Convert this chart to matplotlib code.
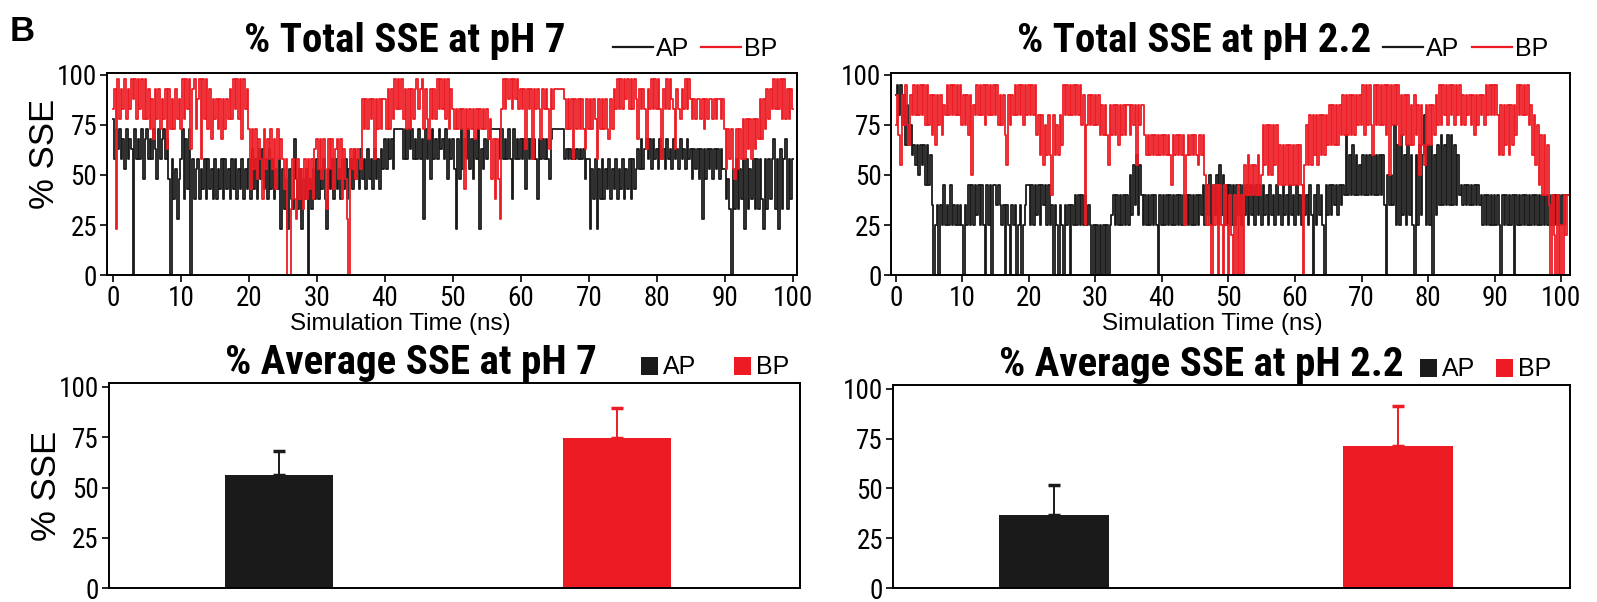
import matplotlib
matplotlib.use('Agg')
import matplotlib.pyplot as plt
from matplotlib import font_manager
from matplotlib.lines import Line2D
from matplotlib.patches import Patch
import numpy as np

COLOR_AP = '#1a1a1a'
COLOR_BP = '#ED1C24'

# condensed sans for titles and ticks, Arial-like sans for labels/legends
_installed = {f.name for f in font_manager.fontManager.ttflist}
NARROW = [n for n in ('Roboto Condensed', 'Archivo Narrow', 'Asap Condensed')
          if n in _installed][:1] + ['DejaVu Sans']
PLAIN = ['Liberation Sans', 'DejaVu Sans']

plt.rcParams.update({
    'font.family': NARROW,
    'font.size': 16,
    'axes.linewidth': 1.4,
    'xtick.major.width': 1.2,
    'ytick.major.width': 1.2,
    'xtick.major.size': 5,
    'ytick.major.size': 5,
})

# % SSE per frame (0.25 ns per frame), pH 7
AP_PH7 = [
    78, 58, 73, 63, 73, 58, 68, 53, 73, 58, 68, 63, 0, 73, 58, 68, 58, 73, 48, 68,
    73, 58, 68, 58, 73, 63, 48, 73, 58, 68, 73, 58, 68, 48, 0, 58, 38, 53, 28, 48,
    58, 73, 38, 68, 43, 73, 0, 58, 38, 53, 58, 38, 53, 43, 58, 38, 58, 43, 53, 38,
    58, 38, 53, 43, 58, 38, 58, 43, 53, 38, 58, 43, 58, 38, 53, 43, 58, 38, 53, 43,
    58, 38, 63, 43, 58, 38, 63, 48, 63, 43, 58, 38, 63, 43, 58, 38, 53, 43, 58, 23,
    53, 33, 48, 23, 53, 38, 33, 68, 48, 33, 53, 23, 48, 38, 53, 0, 48, 33, 53, 38,
    58, 38, 53, 43, 58, 38, 23, 53, 43, 58, 38, 58, 43, 53, 38, 58, 43, 58, 38, 53,
    58, 43, 63, 48, 58, 43, 63, 48, 58, 43, 63, 48, 58, 43, 63, 48, 58, 43, 63, 53,
    68, 53, 68, 58, 68, 53, 73, 73, 73, 73, 73, 58, 73, 58, 73, 63, 73, 58, 68, 58,
    73, 58, 68, 28, 73, 58, 68, 48, 73, 58, 68, 58, 73, 63, 68, 58, 73, 48, 68, 58,
    68, 53, 23, 68, 48, 73, 53, 68, 58, 73, 53, 68, 48, 68, 58, 73, 23, 63, 53, 68,
    58, 68, 73, 73, 73, 73, 73, 73, 58, 73, 58, 68, 58, 73, 58, 38, 73, 58, 68, 58,
    68, 58, 68, 43, 68, 58, 68, 58, 68, 58, 38, 68, 58, 68, 58, 68, 58, 48, 68, 73,
    73, 73, 73, 73, 73, 73, 58, 63, 58, 63, 58, 63, 58, 63, 58, 63, 58, 63, 48, 58,
    58, 23, 53, 38, 58, 23, 53, 38, 58, 38, 53, 43, 58, 38, 53, 43, 58, 38, 53, 43,
    58, 38, 53, 43, 58, 38, 58, 43, 53, 63, 53, 68, 53, 63, 68, 58, 68, 53, 68, 58,
    63, 53, 68, 58, 63, 53, 68, 58, 63, 53, 68, 58, 63, 53, 68, 58, 63, 53, 68, 58,
    63, 48, 63, 53, 63, 48, 63, 28, 63, 48, 63, 53, 63, 48, 63, 53, 63, 48, 63, 53,
    53, 38, 48, 33, 0, 53, 33, 58, 33, 53, 38, 58, 23, 58, 33, 53, 38, 58, 33, 58,
    33, 58, 38, 23, 58, 33, 58, 38, 58, 68, 33, 58, 23, 63, 33, 58, 68, 33, 58, 38,
    58,
]
BP_PH7 = [
    83, 93, 23, 98, 78, 93, 83, 98, 78, 93, 83, 98, 88, 98, 78, 98, 83, 98, 78, 98,
    78, 93, 73, 88, 68, 93, 78, 93, 73, 88, 78, 93, 63, 93, 73, 88, 73, 93, 78, 88,
    73, 98, 78, 98, 83, 98, 63, 93, 98, 73, 88, 98, 58, 98, 78, 98, 73, 93, 68, 88,
    78, 88, 73, 88, 68, 88, 73, 88, 78, 93, 78, 98, 83, 98, 78, 98, 68, 98, 83, 93,
    73, 43, 73, 53, 73, 48, 68, 58, 38, 73, 53, 68, 58, 73, 53, 68, 43, 73, 58, 68,
    58, 43, 58, 0, 0, 33, 58, 38, 28, 58, 38, 53, 33, 58, 38, 58, 43, 58, 38, 63,
    68, 53, 68, 48, 68, 53, 33, 68, 53, 68, 43, 63, 68, 48, 68, 38, 63, 48, 28, 0,
    63, 53, 63, 48, 63, 58, 53, 88, 73, 88, 73, 88, 78, 88, 58, 88, 73, 88, 73, 88,
    88, 73, 93, 73, 93, 78, 98, 83, 98, 83, 98, 78, 93, 73, 93, 73, 93, 78, 93, 98,
    83, 93, 98, 73, 93, 78, 68, 93, 78, 93, 78, 98, 83, 98, 83, 98, 78, 98, 73, 93,
    83, 73, 83, 73, 83, 73, 83, 43, 83, 73, 83, 73, 83, 68, 83, 73, 83, 73, 83, 73,
    83, 68, 78, 48, 68, 38, 68, 48, 28, 83, 98, 83, 98, 88, 98, 83, 98, 88, 98, 83,
    93, 83, 93, 63, 93, 83, 93, 58, 93, 83, 93, 83, 68, 93, 83, 93, 83, 63, 93, 83,
    93, 93, 93, 93, 93, 93, 88, 73, 88, 73, 88, 58, 88, 73, 88, 73, 88, 73, 63, 88,
    73, 88, 73, 88, 78, 58, 88, 73, 88, 73, 88, 73, 68, 88, 73, 93, 83, 98, 83, 98,
    83, 98, 88, 98, 83, 98, 83, 98, 88, 68, 93, 83, 93, 83, 63, 93, 83, 98, 83, 98,
    83, 98, 83, 58, 93, 83, 98, 83, 98, 88, 83, 63, 93, 83, 78, 93, 83, 98, 83, 98,
    88, 78, 88, 78, 88, 88, 78, 88, 73, 88, 78, 88, 88, 78, 88, 78, 88, 88, 78, 88,
    73, 53, 73, 58, 73, 53, 48, 73, 53, 73, 58, 78, 58, 78, 63, 78, 58, 78, 63, 78,
    68, 88, 68, 88, 73, 93, 78, 93, 83, 98, 83, 98, 83, 98, 78, 98, 78, 93, 78, 93,
    83,
]

# % SSE per frame (0.25 ns per frame), pH 2.2
AP_PH22 = [
    90, 95, 80, 95, 75, 90, 65, 85, 65, 75, 60, 65, 55, 65, 50, 65, 55, 65, 45, 65,
    45, 60, 35, 0, 25, 35, 0, 35, 25, 45, 25, 35, 25, 45, 25, 35, 25, 35, 25, 35,
    25, 0, 35, 25, 45, 25, 45, 25, 45, 30, 45, 25, 45, 25, 0, 45, 25, 45, 0, 45,
    45, 35, 45, 35, 25, 35, 0, 35, 25, 0, 35, 25, 35, 0, 25, 35, 0, 25, 35, 45,
    45, 25, 45, 25, 45, 30, 45, 25, 45, 35, 45, 25, 45, 25, 35, 0, 35, 25, 0, 35,
    25, 0, 35, 25, 35, 0, 35, 25, 40, 25, 40, 25, 40, 25, 40, 25, 35, 25, 0, 25,
    0, 25, 0, 25, 0, 25, 0, 25, 0, 25, 30, 40, 25, 40, 25, 40, 25, 40, 25, 40,
    25, 50, 30, 55, 35, 60, 30, 55, 40, 25, 40, 25, 40, 25, 40, 25, 40, 25, 0, 40,
    25, 40, 25, 40, 25, 40, 25, 40, 25, 40, 25, 40, 25, 40, 25, 40, 25, 40, 25, 40,
    25, 40, 25, 40, 30, 45, 25, 45, 30, 50, 25, 45, 30, 50, 25, 55, 30, 50, 25, 45,
    25, 45, 25, 45, 25, 45, 30, 45, 25, 45, 30, 45, 25, 45, 30, 45, 25, 45, 30, 45,
    25, 45, 30, 40, 25, 45, 30, 40, 25, 45, 30, 40, 25, 45, 30, 40, 25, 45, 30, 40,
    25, 45, 30, 40, 25, 45, 30, 40, 25, 45, 30, 0, 40, 25, 45, 30, 40, 25, 0, 45,
    30, 45, 30, 45, 35, 45, 30, 45, 35, 45, 40, 70, 40, 60, 40, 65, 40, 60, 40, 55,
    40, 60, 40, 60, 40, 60, 40, 60, 40, 60, 40, 60, 40, 60, 35, 0, 50, 35, 50, 35,
    75, 25, 65, 25, 70, 30, 60, 25, 65, 30, 60, 25, 0, 60, 25, 65, 30, 60, 80, 25,
    65, 25, 65, 0, 60, 30, 65, 35, 70, 35, 65, 35, 70, 35, 70, 35, 65, 35, 60, 40,
    45, 35, 45, 35, 45, 35, 45, 35, 45, 35, 45, 35, 40, 25, 40, 25, 40, 25, 40, 25,
    40, 25, 40, 25, 0, 40, 25, 40, 25, 40, 25, 40, 0, 40, 25, 40, 25, 40, 25, 40,
    25, 40, 25, 40, 25, 40, 25, 40, 25, 40, 25, 40, 25, 40, 25, 40, 25, 40, 25, 40,
    25, 40, 25, 40, 40,
]
BP_PH22 = [
    75, 90, 70, 55, 90, 75, 95, 75, 65, 90, 80, 95, 80, 95, 80, 95, 80, 95, 75, 95,
    75, 90, 70, 90, 65, 90, 75, 90, 70, 85, 80, 95, 80, 95, 80, 95, 80, 95, 80, 95,
    75, 90, 75, 90, 70, 90, 50, 85, 80, 95, 80, 95, 80, 95, 75, 95, 80, 95, 80, 95,
    80, 95, 75, 90, 75, 90, 70, 55, 90, 75, 90, 80, 95, 80, 95, 80, 95, 75, 95, 80,
    95, 80, 95, 80, 95, 70, 80, 60, 80, 55, 75, 60, 80, 60, 40, 80, 60, 75, 60, 80,
    65, 95, 80, 95, 80, 95, 80, 95, 80, 95, 80, 95, 75, 90, 25, 75, 90, 75, 90, 75,
    90, 75, 90, 70, 85, 70, 85, 70, 55, 85, 70, 85, 70, 85, 65, 85, 70, 85, 70, 85,
    85, 70, 85, 75, 85, 55, 85, 75, 85, 85, 70, 60, 70, 60, 70, 60, 70, 60, 70, 60,
    70, 60, 70, 60, 70, 60, 45, 70, 60, 70, 60, 70, 60, 70, 25, 60, 70, 60, 70, 60,
    70, 60, 55, 70, 60, 70, 50, 25, 45, 25, 0, 45, 25, 45, 0, 45, 25, 0, 45, 25,
    0, 40, 20, 0, 40, 0, 45, 0, 40, 0, 55, 40, 60, 40, 55, 40, 55, 40, 60, 40,
    50, 75, 55, 75, 50, 75, 50, 75, 55, 75, 45, 65, 45, 65, 45, 65, 45, 65, 45, 65,
    45, 65, 45, 65, 45, 0, 55, 75, 55, 80, 55, 80, 60, 80, 55, 80, 60, 80, 60, 80,
    65, 85, 65, 85, 65, 85, 65, 85, 70, 90, 70, 90, 70, 90, 70, 90, 70, 90, 75, 90,
    75, 95, 70, 95, 75, 95, 75, 60, 95, 75, 95, 75, 95, 75, 95, 70, 95, 50, 95, 75,
    95, 75, 95, 65, 90, 70, 90, 65, 90, 65, 85, 65, 90, 70, 85, 50, 85, 65, 55, 85,
    65, 85, 65, 85, 70, 90, 75, 95, 75, 95, 80, 95, 75, 95, 80, 95, 75, 95, 80, 95,
    75, 90, 75, 90, 80, 90, 75, 90, 70, 90, 75, 90, 80, 90, 75, 95, 80, 95, 80, 95,
    80, 95, 80, 60, 85, 60, 85, 65, 85, 60, 85, 65, 85, 70, 95, 80, 95, 80, 95, 80,
    95, 75, 85, 60, 80, 55, 75, 45, 70, 40, 70, 40, 65, 35, 0, 40, 20, 0, 40, 0,
    25, 0, 40, 20, 40,
]

T_END_PH7 = 100.0
T_END_PH22 = 101.0

# average % SSE over the trajectory (mean, +SD)
CONDITIONS = ['pH 7', 'pH 2.2']
AP_MEAN = [56.0, 36.5]
AP_SD = [12.0, 15.0]
BP_MEAN = [74.5, 71.5]
BP_SD = [15.0, 20.0]

TITLE_FONT = dict(fontsize=29.5, fontweight='bold')


def line_legend(ax, x, y):
    handles = [Line2D([], [], color=COLOR_AP, lw=1.6),
               Line2D([], [], color=COLOR_BP, lw=1.6)]
    ax.legend(handles, ['AP', 'BP'], loc='center right', bbox_to_anchor=(x, y),
              ncol=2, frameon=False, prop={'family': PLAIN, 'size': 18},
              handlelength=1.6, handletextpad=0.12, columnspacing=0.5,
              borderpad=0, borderaxespad=0)


def box_legend(ax, x, y, spacing):
    handles = [Patch(facecolor=COLOR_AP), Patch(facecolor=COLOR_BP)]
    ax.legend(handles, ['AP', 'BP'], loc='center right', bbox_to_anchor=(x, y),
              ncol=2, frameon=False, prop={'family': PLAIN, 'size': 18},
              handlelength=0.68, handleheight=0.75, handletextpad=0.2,
              columnspacing=spacing, borderpad=0, borderaxespad=0)


def trace_panel(ax, ap, bp, t_end, title, title_x, legend_x, xlabel_x, xlim,
                ylabel):
    t = np.linspace(0, t_end, len(ap))
    ax.plot(t, ap, color=COLOR_AP, lw=1.3, drawstyle='steps-mid')
    ax.plot(t, bp, color=COLOR_BP, lw=1.3, drawstyle='steps-mid')
    ax.set_xlim(*xlim)
    ax.set_ylim(0, 101)
    ax.set_xticks(np.arange(0, 101, 10))
    ax.set_yticks([0, 25, 50, 75, 100])
    ax.tick_params(axis='both', labelsize=19.5, pad=2)
    ax.set_xlabel('Simulation Time (ns)', fontsize=17.5, family=PLAIN)
    ax.xaxis.set_label_coords(xlabel_x, -0.185)
    if ylabel:
        ax.set_ylabel('% SSE', fontsize=25, family=PLAIN)
        ax.yaxis.set_label_coords(-0.066, 0.6)
    ax.text(title_x, 1.105, title, transform=ax.transAxes, ha='center',
            va='baseline', **TITLE_FONT)
    line_legend(ax, legend_x, 1.12)


def bar_panel(ax, i, title, title_x, legend_x, spacing, xlim, ylabel):
    ax.bar([0], [AP_MEAN[i]], width=0.32, color=COLOR_AP)
    ax.bar([1], [BP_MEAN[i]], width=0.32, color=COLOR_BP)
    ax.errorbar([0], [AP_MEAN[i]], yerr=[[0], [AP_SD[i]]], color=COLOR_AP,
                elinewidth=1.4, capsize=4, capthick=2.5, fmt='none')
    ax.errorbar([1], [BP_MEAN[i]], yerr=[[0], [BP_SD[i]]], color=COLOR_BP,
                elinewidth=1.4, capsize=4, capthick=2.5, fmt='none')
    ax.set_xlim(*xlim)
    ax.set_ylim(0, 102)
    ax.set_xticks([])
    ax.set_yticks([0, 25, 50, 75, 100])
    ax.tick_params(axis='y', labelsize=19.5, pad=2)
    if ylabel:
        ax.set_ylabel('% SSE', fontsize=25, family=PLAIN)
        ax.yaxis.set_label_coords(-0.066, 0.5)
    ax.text(title_x, 1.045, title, transform=ax.transAxes, ha='center',
            va='baseline', **TITLE_FONT)
    box_legend(ax, legend_x, 1.075, spacing)


fig = plt.figure(figsize=(15.97, 6.02), dpi=100)

ax_tl = fig.add_axes([0.067, 0.543, 0.432, 0.336])
ax_tr = fig.add_axes([0.558, 0.543, 0.425, 0.336])
ax_bl = fig.add_axes([0.068, 0.023, 0.433, 0.341])
ax_br = fig.add_axes([0.559, 0.023, 0.424, 0.338])

trace_panel(ax_tl, AP_PH7, BP_PH7, T_END_PH7, '% Total SSE at pH 7',
            0.432, 0.972, 0.425, (-0.9, 100.6), True)
trace_panel(ax_tr, AP_PH22, BP_PH22, T_END_PH22, '% Total SSE at pH 2.2',
            0.446, 0.968, 0.473, (-0.7, 101.3), False)
bar_panel(ax_bl, 0, '% Average SSE at pH 7', 0.437, 0.984, 1.5,
          (-0.503, 1.542), True)
bar_panel(ax_br, 1, '% Average SSE at pH 2.2', 0.456, 0.972, 0.8,
          (-0.468, 1.501), False)

fig.text(0.006, 0.932, 'B', fontsize=25, fontweight='bold',
         family=PLAIN, va='baseline')

fig.savefig('out.png', dpi=100, facecolor='white')
